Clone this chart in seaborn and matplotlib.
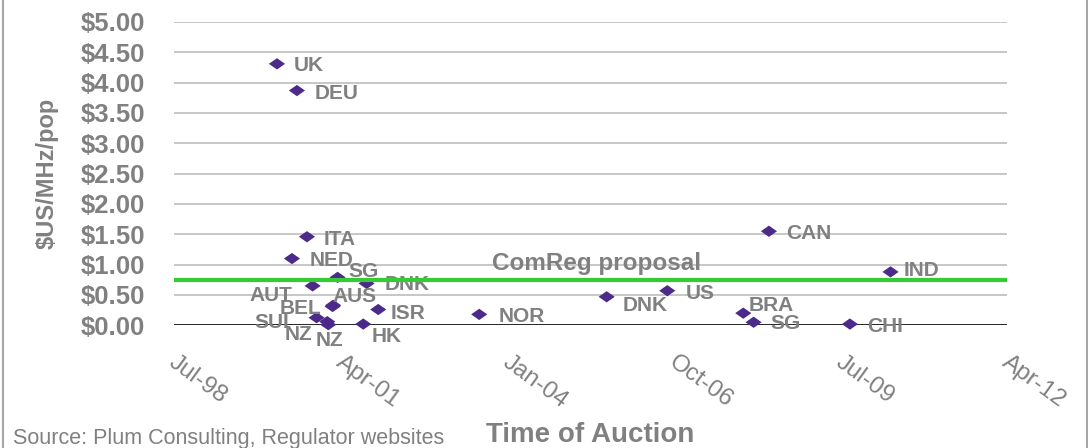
import numpy as np
import pandas as pd
import matplotlib
matplotlib.use("Agg")
import matplotlib.pyplot as plt
import matplotlib.dates as mdates
from matplotlib.transforms import ScaledTranslation
import seaborn as sns

# values
countries = ["UK", "DEU", "ITA", "NED", "AUT", "SUI", "NZ", "NZ", "BEL", "AUS", "SG",
             "HK", "DNK", "ISR", "NOR", "DNK", "US", "CAN", "BRA", "SG", "CHI", "IND"]
auction_dates = ["2000-04-02", "2000-07-31", "2000-09-29", "2000-07-01", "2000-11-02",
                 "2000-11-26", "2001-01-29", "2001-02-04", "2001-03-02", "2001-03-05",
                 "2001-04-01", "2001-09-02", "2001-09-22", "2001-12-01", "2003-07-30",
                 "2005-09-02", "2006-09-01", "2008-05-03", "2007-12-01", "2008-02-01",
                 "2009-09-01", "2010-05-03"]
prices = [4.31, 3.87, 1.46, 1.10, 0.65, 0.125, 0.06, 0.01, 0.31, 0.33, 0.79,
          0.02, 0.69, 0.26, 0.18, 0.47, 0.57, 1.55, 0.20, 0.05, 0.02, 0.88]
comreg_price = 0.74
comreg_label = "ComReg proposal"
axis_start = "1998-07-24"   # Excel serial 36000, ticks every 1000 days
y_ticks = [0, 0.5, 1, 1.5, 2, 2.5, 3, 3.5, 4, 4.5, 5]

# label placement (pixels: right, down from the marker) and alignment
label_offsets = [(17, 0, "left"), (18, 1, "left"), (17, 1, "left"), (18, 0, "left"),
                 (-20, 8, "right"), (-27, 3, "right"), (-15, 11, "right"), (1, 14, "center"),
                 (-11, 1, "right"), (-1, -10, "left"), (11, -7, "left"), (8, 11, "left"),
                 (18, 0, "left"), (12, 2, "left"), (19, 1, "left"), (16, 7, "left"),
                 (18, 1, "left"), (17, 1, "left"), (5, -9, "left"), (17, 0, "left"),
                 (17, 1, "left"), (13, -3, "left")]

GREY = "#808080"
PURPLE = "#4b2a8a"


def main():
    sns.set_style("white")
    plt.rcParams["font.family"] = ["Liberation Sans", "DejaVu Sans"]

    df = pd.DataFrame({"country": countries,
                       "date": pd.to_datetime(auction_dates),
                       "price": prices})

    fig = plt.figure(figsize=(10.88, 4.48), dpi=100)
    ax = fig.add_axes([174 / 1088, 122.7 / 448, 833 / 1088, 303.3 / 448])

    diamond = [(-1, 0), (0, 0.7), (1, 0), (0, -0.7), (-1, 0)]
    sns.scatterplot(data=df, x="date", y="price", ax=ax, marker=diamond, s=135,
                    color=PURPLE, edgecolor="none", clip_on=False, zorder=3)

    ticks = pd.date_range(axis_start, periods=6, freq="1000D")
    ax.set_xlim(mdates.date2num(ticks[0]), mdates.date2num(ticks[-1]))
    ax.set_ylim(0, 5)

    # gridlines, zero line and the ComReg reference line
    for yv in y_ticks[1:]:
        ax.axhline(yv, color="#b8b8b8", lw=1.1, zorder=1)
    ax.axhline(0, color="black", lw=1.2, zorder=1)
    ax.axhline(comreg_price, color="#33cc33", lw=3, zorder=4)
    ax.annotate(comreg_label, xy=((492 - 174) / 833, comreg_price),
                xycoords=("axes fraction", "data"), xytext=(0, 10),
                textcoords="offset pixels", ha="left", va="baseline",
                fontsize=17.5, fontweight="bold", color=GREY, zorder=5)

    # data labels
    for (name, d, p), (dx, dy, ha) in zip(zip(countries, df["date"], prices), label_offsets):
        ax.annotate(name, xy=(mdates.date2num(d), p), xytext=(dx, -(dy + 7)),
                    textcoords="offset pixels", ha=ha, va="baseline", fontsize=15,
                    fontweight="bold", color=GREY, annotation_clip=False, zorder=3.5)

    # axes
    ax.set_yticks(y_ticks)
    ax.set_yticklabels([f"${v:.2f}" for v in y_ticks], fontsize=18.5,
                       fontweight="bold", color=GREY)
    ax.set_xticks(mdates.date2num(ticks))
    ax.xaxis.set_major_formatter(mdates.DateFormatter("%b-%y"))
    ax.tick_params(axis="y", length=0, pad=21)
    ax.tick_params(axis="x", length=0, pad=19, labelsize=17.5, labelcolor=GREY)
    shift = ScaledTranslation(4 / 100, 0, fig.dpi_scale_trans)
    for lbl in ax.get_xticklabels():
        lbl.set_rotation(-36)
        lbl.set_rotation_mode("anchor")
        lbl.set_ha("left")
        lbl.set_va("top")
        lbl.set_transform(lbl.get_transform() + shift)
    sns.despine(ax=ax, left=True, bottom=True)

    ax.set_xlabel("Time of Auction", fontsize=20, fontweight="bold", color=GREY, va="baseline")
    ax.xaxis.set_label_coords(0.5, -(442 - 325.3) / 303.3)
    ax.set_ylabel("$US/MHz/pop", fontsize=17, fontweight="bold", color=GREY, va="center")
    ax.yaxis.set_label_coords((47 - 174) / 833, 0.5)

    fig.text(13 / 1088, 1 - 444 / 448, "Source: Plum Consulting, Regulator websites",
             fontsize=15.5, color=GREY, va="baseline", ha="left")

    # chart frame
    for xf in (3 / 1088, 1086.5 / 1088):
        fig.add_artist(plt.Line2D([xf, xf], [0, 1], transform=fig.transFigure,
                                  color="#a6a6a6", lw=1.5))

    fig.savefig("out.png", dpi=100)
    plt.close(fig)


if __name__ == "__main__":
    main()
